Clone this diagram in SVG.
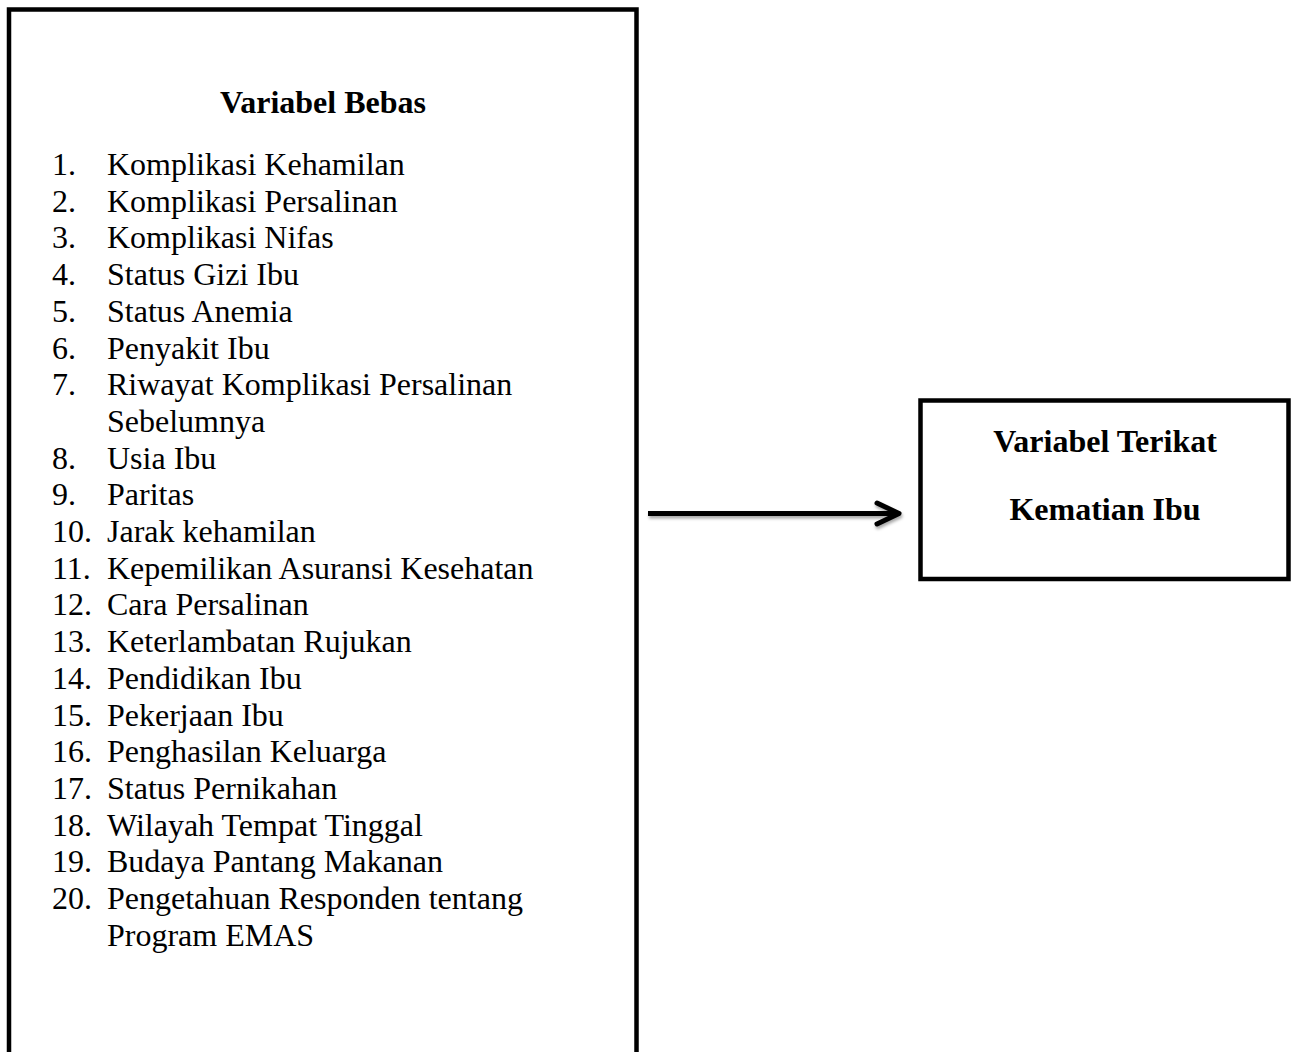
<svg xmlns="http://www.w3.org/2000/svg" width="1296" height="1052" viewBox="0 0 1296 1052">
  <style>
    .box { fill: #ffffff; stroke: #000000; stroke-width: 4.5; }
    .t { font-family: "Liberation Serif", "Times New Roman", serif; font-size: 32px; fill: #000000; }
    .b { font-weight: bold; }
    .c { text-anchor: middle; }
    .conn { stroke: #000000; stroke-width: 5; fill: none; }
  </style>
  <defs>
    <filter id="shadow" filterUnits="userSpaceOnUse" x="630" y="480" width="300" height="70">
      <feDropShadow dx="1" dy="2.5" stdDeviation="1.5" flood-color="#000000" flood-opacity="0.35"/>
    </filter>
    <marker id="chev" markerUnits="userSpaceOnUse" markerWidth="40" markerHeight="40" refX="30" refY="20" orient="auto" overflow="visible">
      <path d="M8,9.5 L30,20 L8,30.5" stroke="#000000" stroke-width="5" fill="none" stroke-linejoin="round" stroke-linecap="round"/>
    </marker>
  </defs>
  <rect width="1296" height="1052" fill="#ffffff"/>

  <g id="node-variabel-bebas">
    <rect class="box" x="9" y="9.5" width="627.5" height="1060"/>
    <text class="t b c" x="323" y="113">Variabel Bebas</text>
    <g class="t">
      <text x="52" y="175">1.</text><text x="107" y="175">Komplikasi Kehamilan</text>
      <text x="52" y="211.7">2.</text><text x="107" y="211.7">Komplikasi Persalinan</text>
      <text x="52" y="248.4">3.</text><text x="107" y="248.4">Komplikasi Nifas</text>
      <text x="52" y="285.1">4.</text><text x="107" y="285.1">Status Gizi Ibu</text>
      <text x="52" y="321.8">5.</text><text x="107" y="321.8">Status Anemia</text>
      <text x="52" y="358.5">6.</text><text x="107" y="358.5">Penyakit Ibu</text>
      <text x="52" y="395.2">7.</text><text x="107" y="395.2">Riwayat Komplikasi Persalinan</text>
      <text x="107" y="431.9">Sebelumnya</text>
      <text x="52" y="468.6">8.</text><text x="107" y="468.6">Usia Ibu</text>
      <text x="52" y="505.3">9.</text><text x="107" y="505.3">Paritas</text>
      <text x="52" y="542">10.</text><text x="107" y="542">Jarak kehamilan</text>
      <text x="52" y="578.7">11.</text><text x="107" y="578.7">Kepemilikan Asuransi Kesehatan</text>
      <text x="52" y="615.4">12.</text><text x="107" y="615.4">Cara Persalinan</text>
      <text x="52" y="652.1">13.</text><text x="107" y="652.1">Keterlambatan Rujukan</text>
      <text x="52" y="688.8">14.</text><text x="107" y="688.8">Pendidikan Ibu</text>
      <text x="52" y="725.5">15.</text><text x="107" y="725.5">Pekerjaan Ibu</text>
      <text x="52" y="762.2">16.</text><text x="107" y="762.2">Penghasilan Keluarga</text>
      <text x="52" y="798.9">17.</text><text x="107" y="798.9">Status Pernikahan</text>
      <text x="52" y="835.6">18.</text><text x="107" y="835.6">Wilayah Tempat Tinggal</text>
      <text x="52" y="872.3">19.</text><text x="107" y="872.3">Budaya Pantang Makanan</text>
      <text x="52" y="909">20.</text><text x="107" y="909">Pengetahuan Responden tentang</text>
      <text x="107" y="945.7">Program EMAS</text>
    </g>
  </g>

  <g id="node-variabel-terikat">
    <rect class="box" x="920.5" y="400.5" width="368" height="178.5"/>
    <text class="t b c" x="1105" y="451.7">Variabel Terikat</text>
    <text class="t b c" x="1105" y="520">Kematian Ibu</text>
  </g>

  <g id="connectors" filter="url(#shadow)">
    <line class="conn" x1="648" y1="513.5" x2="899" y2="513.5" marker-end="url(#chev)"/>
  </g>
</svg>
